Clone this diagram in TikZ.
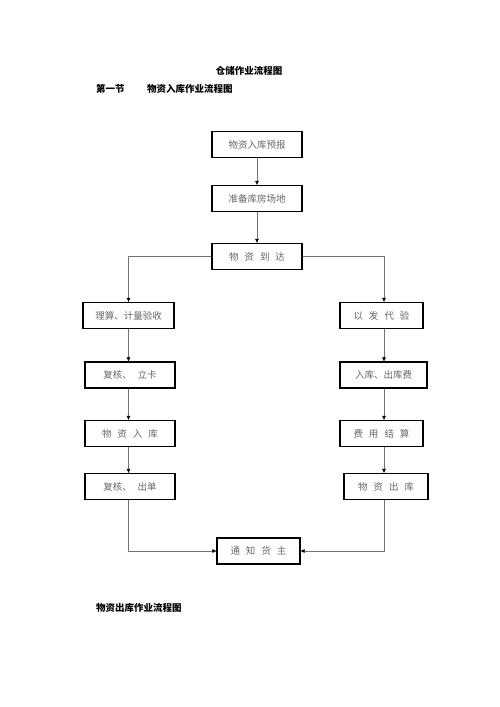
\documentclass[tikz,border=0pt]{standalone}
\usepackage{fontspec}
\setmainfont{Noto Sans CJK SC}
\usetikzlibrary{arrows.meta}
\newcommand\kg{\hspace{6pt}}
\begin{document}
\begin{tikzpicture}[x=1pt,y=-1pt,
	box/.style={rectangle, draw=black, line width=1.3pt, minimum height=26pt, inner sep=0pt, font=\fontsize{9.5}{10}\selectfont, text=black!60},
	line/.style={draw=black!55, line width=0.6pt},
	arr/.style={line, -{Triangle[length=4pt,width=3.5pt,color=black]}},
	heading/.style={font=\bfseries\fontsize{9.5}{10}\selectfont, inner sep=0pt}]

		\useasboundingbox (0,0) rectangle (500,707);

		\node(title)[heading] at (249,71) {仓储作业流程图};
		\node(sec)[heading, anchor=west] at (96,89) {第一节};
		\node(in-title)[heading, anchor=west] at (147,89) {物资入库作业流程图};
		\node(out-title)[heading, anchor=west] at (96,607.5) {物资出库作业流程图};

		\node(pre)[box, minimum width=90pt] at (257,144.5) {物资入库预报};
		\node(prep)[box, minimum width=90pt] at (257,198.5) {准备库房场地};
		\node(arrive)[box, minimum width=90pt] at (257,256.5) {物\kg 资\kg 到\kg 达};

		\node(left-1)[box, minimum width=91pt] at (128.5,315.5) {理算、计量验收};
		\node(left-2)[box, minimum width=90pt] at (130,375) {复核、\kg 立卡};
		\node(left-3)[box, minimum width=90pt] at (130,433.5) {物\kg 资\kg 入\kg 库};
		\node(left-4)[box, minimum width=90pt] at (130,486.5) {复核、\kg 出单};

		\node(right-1)[box, minimum width=83pt] at (381.5,315.5) {以\kg 发\kg 代\kg 验};
		\node(right-2)[box, minimum width=87pt] at (383.5,375) {入库、出库费};
		\node(right-3)[box, minimum width=83pt] at (381.5,433.5) {费\kg 用\kg 结\kg 算};
		\node(right-4)[box, minimum width=84pt] at (386,486.5) {物\kg 资\kg 出\kg 库};

		\node(notify)[box, minimum width=83pt] at (258.5,551) {通\kg 知\kg 货\kg 主};

		\coordinate(lx) at (128.5,0);
		\coordinate(rx) at (384,0);

		\draw[arr] (pre) -- (prep);
		\draw[arr] (prep) -- (arrive);
		\draw[arr] (arrive.west) -| (lx |- left-1.north);
		\draw[arr] (arrive.east) -| (rx |- right-1.north);

		\draw[arr] (lx |- left-1.south) -- (lx |- left-2.north);
		\draw[arr] (lx |- left-2.south) -- (lx |- left-3.north);
		\draw[arr] (lx |- left-3.south) -- (lx |- left-4.north);
		\draw[arr] (lx |- left-4.south) |- (notify.west);

		\draw[arr] (rx |- right-1.south) -- (rx |- right-2.north);
		\draw[arr] (rx |- right-2.south) -- (rx |- right-3.north);
		\draw[arr] (rx |- right-3.south) -- (rx |- right-4.north);
		\draw[arr] (rx |- right-4.south) |- (notify.east);
	\end{tikzpicture}
\end{document}
